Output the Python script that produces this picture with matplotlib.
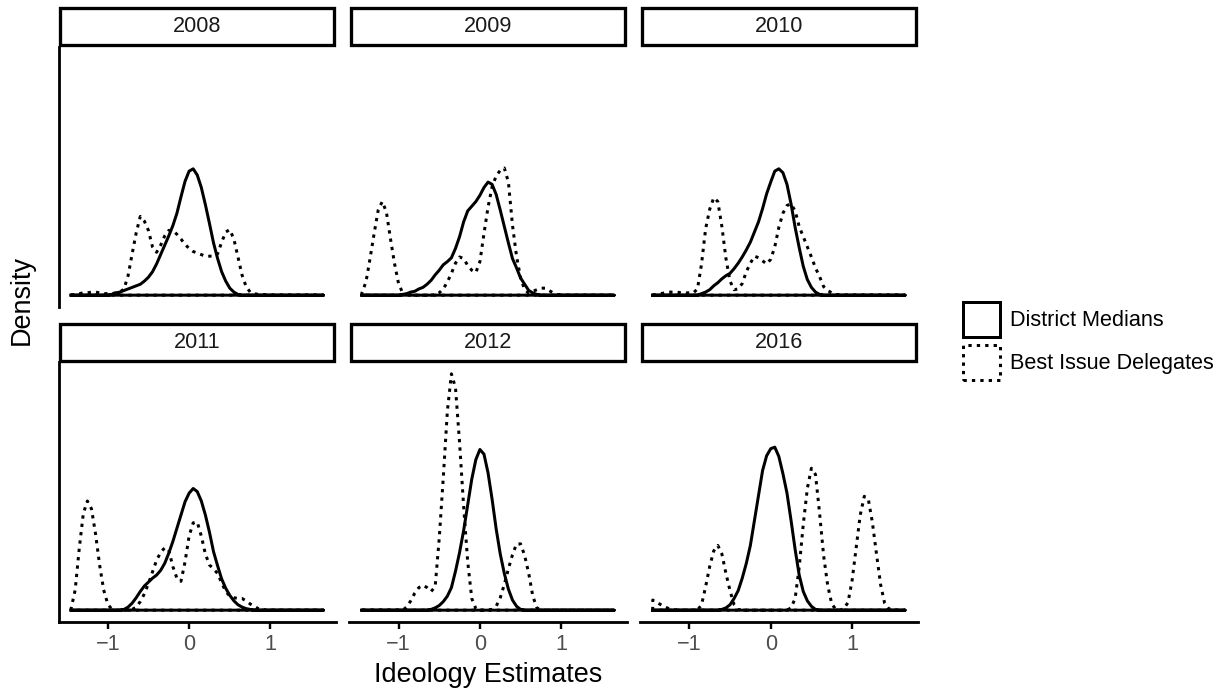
import numpy as np
import matplotlib.pyplot as plt
from matplotlib.patches import Rectangle

plt.rcParams['font.family'] = ['Liberation Sans', 'DejaVu Sans']

W, H, DPI = 1228, 694, 100
PT = 72 / DPI  # points per pixel

years = ['2008', '2009', '2010', '2011', '2012', '2016']
series_labels = ['District Medians', 'Best Issue Delegates']

# ideology grid the densities were evaluated on
ideology = [-1.45, -1.40, -1.35, -1.30, -1.25, -1.20, -1.15, -1.10, -1.05, -1.00,
            -0.95, -0.90, -0.85, -0.80, -0.75, -0.70, -0.65, -0.60, -0.55, -0.50,
            -0.45, -0.40, -0.35, -0.30, -0.25, -0.20, -0.15, -0.10, -0.05, 0.00,
            0.05, 0.10, 0.15, 0.20, 0.25, 0.30, 0.35, 0.40, 0.45, 0.50,
            0.55, 0.60, 0.65, 0.70, 0.75, 0.80, 0.85, 0.90, 0.95, 1.00,
            1.05, 1.10, 1.15, 1.20, 1.25, 1.30, 1.35, 1.40, 1.45, 1.50,
            1.55, 1.60, 1.65]

# district medians
median_2008 = [0, 0, 0, 0, 0, 0, 0, 0, 0, 0,
               0.01, 0.03, 0.04, 0.06, 0.08, 0.10, 0.12, 0.14, 0.18, 0.23,
               0.30, 0.40, 0.52, 0.64, 0.76, 0.89, 1.05, 1.26, 1.46, 1.59,
               1.62, 1.54, 1.38, 1.16, 0.92, 0.67, 0.47, 0.30, 0.18, 0.09,
               0.04, 0.01, 0, 0, 0, 0, 0, 0, 0, 0,
               0, 0, 0, 0, 0, 0, 0, 0, 0, 0,
               0, 0, 0]
median_2009 = [0, 0, 0, 0, 0, 0, 0, 0, 0, 0,
               0.01, 0.02, 0.04, 0.05, 0.08, 0.10, 0.14, 0.19, 0.26, 0.32,
               0.39, 0.43, 0.48, 0.60, 0.75, 0.94, 1.08, 1.14, 1.20, 1.28,
               1.38, 1.45, 1.42, 1.29, 1.09, 0.88, 0.67, 0.47, 0.35, 0.22,
               0.14, 0.06, 0.03, 0.01, 0, 0, 0, 0, 0, 0,
               0, 0, 0, 0, 0, 0, 0, 0, 0, 0,
               0, 0, 0]
median_2010 = [0, 0, 0, 0, 0, 0, 0, 0, 0, 0,
               0, 0, 0.02, 0.04, 0.07, 0.12, 0.16, 0.21, 0.25, 0.28,
               0.34, 0.41, 0.49, 0.58, 0.68, 0.81, 0.94, 1.11, 1.30, 1.45,
               1.59, 1.62, 1.57, 1.42, 1.17, 0.87, 0.61, 0.37, 0.20, 0.10,
               0.04, 0.01, 0, 0, 0, 0, 0, 0, 0, 0,
               0, 0, 0, 0, 0, 0, 0, 0, 0, 0,
               0, 0, 0]
median_2011 = [0, 0, 0, 0, 0, 0, 0, 0, 0, 0,
               0, 0, 0, 0.01, 0.04, 0.09, 0.16, 0.24, 0.31, 0.36,
               0.41, 0.45, 0.51, 0.60, 0.73, 0.88, 1.05, 1.22, 1.39, 1.50,
               1.56, 1.52, 1.40, 1.22, 1.00, 0.75, 0.57, 0.40, 0.28, 0.19,
               0.12, 0.07, 0.04, 0.02, 0.01, 0, 0, 0, 0, 0,
               0, 0, 0, 0, 0, 0, 0, 0, 0, 0,
               0, 0, 0]
median_2012 = [0, 0, 0, 0, 0, 0, 0, 0, 0, 0,
               0, 0, 0, 0, 0, 0, 0, 0.01, 0.03, 0.06,
               0.11, 0.18, 0.29, 0.50, 0.74, 1.02, 1.35, 1.68, 1.93, 2.06,
               2.00, 1.76, 1.42, 1.04, 0.72, 0.47, 0.27, 0.13, 0.05, 0.01,
               0, 0, 0, 0, 0, 0, 0, 0, 0, 0,
               0, 0, 0, 0, 0, 0, 0, 0, 0, 0,
               0, 0, 0]
median_2016 = [0, 0, 0, 0, 0, 0, 0, 0, 0, 0,
               0, 0, 0, 0, 0, 0, 0, 0.01, 0.03, 0.07,
               0.15, 0.25, 0.41, 0.60, 0.83, 1.15, 1.47, 1.79, 1.98, 2.07,
               2.09, 1.97, 1.75, 1.50, 1.15, 0.78, 0.45, 0.24, 0.12, 0.05,
               0.01, 0, 0, 0, 0, 0, 0, 0, 0, 0,
               0, 0, 0, 0, 0, 0, 0, 0, 0, 0,
               0, 0, 0]

# best issue delegates
delegate_2008 = [0.00, 0.01, 0.02, 0.03, 0.03, 0.04, 0.04, 0.03, 0.02, 0.02,
                 0.02, 0.03, 0.04, 0.08, 0.25, 0.53, 0.80, 1.01, 0.95, 0.83,
                 0.62, 0.55, 0.64, 0.76, 0.83, 0.83, 0.78, 0.72, 0.65, 0.60,
                 0.56, 0.54, 0.52, 0.50, 0.50, 0.50, 0.53, 0.68, 0.81, 0.84,
                 0.72, 0.49, 0.26, 0.11, 0.04, 0.02, 0.01, 0.01, 0, 0,
                 0, 0, 0, 0, 0, 0, 0, 0, 0, 0,
                 0, 0, 0]
delegate_2009 = [0.03, 0.17, 0.47, 0.79, 1.09, 1.20, 1.07, 0.73, 0.41, 0.15,
                 0.03, 0.01, 0, 0, 0, 0, 0, 0, 0.01, 0.03,
                 0.08, 0.17, 0.28, 0.41, 0.49, 0.47, 0.38, 0.32, 0.29, 0.43,
                 0.79, 1.13, 1.39, 1.53, 1.60, 1.63, 1.45, 0.90, 0.50, 0.22,
                 0.07, 0.03, 0.05, 0.07, 0.09, 0.09, 0.06, 0.03, 0.01, 0,
                 0, 0, 0, 0, 0, 0, 0, 0, 0, 0,
                 0, 0, 0]
delegate_2010 = [0.00, 0.01, 0.02, 0.03, 0.04, 0.04, 0.04, 0.03, 0.03, 0.03,
                 0.03, 0.08, 0.40, 0.85, 1.10, 1.25, 1.20, 0.88, 0.47, 0.18,
                 0.07, 0.08, 0.15, 0.30, 0.41, 0.50, 0.48, 0.44, 0.40, 0.46,
                 0.62, 0.87, 1.05, 1.15, 1.17, 1.08, 0.88, 0.75, 0.62, 0.49,
                 0.35, 0.24, 0.11, 0.06, 0.03, 0.01, 0, 0, 0, 0,
                 0, 0, 0, 0, 0, 0, 0, 0, 0, 0,
                 0, 0, 0]
delegate_2011 = [0.02, 0.26, 0.79, 1.24, 1.40, 1.30, 0.98, 0.58, 0.26, 0.08,
                 0.01, 0, 0, 0, 0, 0.01, 0.04, 0.11, 0.21, 0.34,
                 0.49, 0.64, 0.74, 0.80, 0.77, 0.56, 0.41, 0.37, 0.62, 0.95,
                 1.12, 1.13, 0.95, 0.72, 0.58, 0.53, 0.47, 0.35, 0.24, 0.18,
                 0.16, 0.15, 0.15, 0.12, 0.08, 0.05, 0.02, 0.01, 0, 0,
                 0, 0, 0, 0, 0, 0, 0, 0, 0, 0,
                 0, 0, 0]
delegate_2012 = [0, 0, 0, 0, 0, 0, 0, 0, 0, 0,
                 0, 0.04, 0.12, 0.22, 0.29, 0.32, 0.29, 0.24, 0.30, 0.92,
                 1.70, 2.55, 3.03, 2.85, 2.15, 1.33, 0.62, 0.15, 0.02, 0,
                 0, 0, 0.01, 0.05, 0.16, 0.33, 0.53, 0.71, 0.85, 0.85,
                 0.70, 0.47, 0.18, 0.03, 0, 0, 0, 0, 0, 0,
                 0, 0, 0, 0, 0, 0, 0, 0, 0, 0,
                 0, 0, 0]
delegate_2016 = [0.13, 0.10, 0.07, 0.04, 0.02, 0.01, 0, 0, 0, 0,
                 0, 0, 0.07, 0.30, 0.56, 0.76, 0.83, 0.72, 0.47, 0.25,
                 0.07, 0.01, 0, 0, 0, 0, 0, 0, 0, 0,
                 0, 0, 0, 0, 0.03, 0.15, 0.55, 1.10, 1.56, 1.82,
                 1.74, 1.25, 0.70, 0.32, 0.08, 0.01, 0, 0.02, 0.10, 0.38,
                 0.80, 1.22, 1.46, 1.42, 1.12, 0.72, 0.33, 0.09, 0.02, 0,
                 0, 0, 0]

median_curves = [median_2008, median_2009, median_2010,
                 median_2011, median_2012, median_2016]
delegate_curves = [delegate_2008, delegate_2009, delegate_2010,
                   delegate_2011, delegate_2012, delegate_2016]

x_ticks = [-1, 0, 1]
x_tick_labels = ['\u22121', '0', '1']

LW = 3.0 * PT
SOLID = dict(color='black', lw=LW, linestyle='-', solid_joinstyle='round')
DOTTED = dict(color='black', lw=LW, linestyle=(0, (1.1, 1.7)), dash_capstyle='butt')


def fig_box(left, top, width, height):
    # pixel box (top-left origin) -> figure fraction
    return [left / W, 1 - (top + height) / H, width / W, height / H]


fig = plt.figure(figsize=(W / DPI, H / DPI), dpi=DPI)

col_left = [58.5, 349.3, 640.1]
panel_w = 277.5
row_top = [47, 362]
panel_h = 260
strip_top = [6, 322]
strip_h = 41

xs = np.array(ideology)
x_pad = 0.05 * (xs.max() - xs.min())
y_max = max(max(c) for c in median_curves + delegate_curves)


def outline(values):
    # closed density outline: up from the baseline, along the curve, back along y = 0
    x = np.concatenate([[xs[0]], xs, [xs[-1], xs[0]]])
    y = np.concatenate([[0], values, [0, 0]])
    return x, y


for i, year in enumerate(years):
    r, c = divmod(i, 3)
    ax = fig.add_axes(fig_box(col_left[c], row_top[r], panel_w, panel_h))
    ax.set_xlim(xs.min() - x_pad, xs.max() + x_pad)
    ax.set_ylim(-0.05 * y_max, 1.05 * y_max)

    ax.plot(*outline(median_curves[i]), **SOLID)
    ax.plot(*outline(delegate_curves[i]), **DOTTED)

    for side in ['top', 'right']:
        ax.spines[side].set_visible(False)
    ax.spines['left'].set_visible(c == 0)
    ax.spines['bottom'].set_visible(r == 1)
    ax.spines['left'].set_linewidth(2.8 * PT)
    ax.spines['bottom'].set_linewidth(2.8 * PT)
    ax.set_yticks([])
    ax.set_xticks(x_ticks)
    if r == 1:
        ax.set_xticklabels(x_tick_labels)
        ax.tick_params(axis='x', length=6.8 * PT, width=2.4 * PT, pad=3.5,
                       labelsize=21.6 * PT, labelcolor='#4D4D4D')
    else:
        ax.tick_params(axis='x', bottom=False, labelbottom=False)

    # facet strip
    s_left, s_top = col_left[c], strip_top[r]
    inset = 1.65
    fig.add_artist(Rectangle(
        ((s_left + inset) / W, 1 - (s_top + strip_h - inset) / H),
        (panel_w - 2 * inset) / W, (strip_h - 2 * inset) / H,
        transform=fig.transFigure, facecolor='white', edgecolor='black',
        lw=3.3 * PT))
    fig.text((s_left + panel_w / 2) / W, 1 - (s_top + strip_h / 2) / H, year,
             ha='center', va='center', fontsize=21.6 * PT, color='#1A1A1A')

# axis titles
fig.text(488 / W, 1 - 675 / H, 'Ideology Estimates', ha='center', va='center',
         fontsize=27 * PT)
fig.text(22 / W, 1 - 300 / H, 'Density', ha='center', va='center',
         rotation=90, fontsize=27 * PT)

# legend
key_styles = [dict(linestyle='-'), dict(linestyle=(0, (1.1, 1.7)))]
key_tops = [300, 343]
for label, style, top in zip(series_labels, key_styles, key_tops):
    fig.add_artist(Rectangle(
        (963.2 / W, 1 - (top + 36.8) / H), 37 / W, 35.3 / H,
        transform=fig.transFigure, facecolor='none', edgecolor='black',
        lw=LW, **style))
    fig.text(1010 / W, 1 - (top + 20) / H, label, ha='left', va='center',
             fontsize=21.6 * PT, color='black')

fig.savefig('out.png', dpi=DPI)
